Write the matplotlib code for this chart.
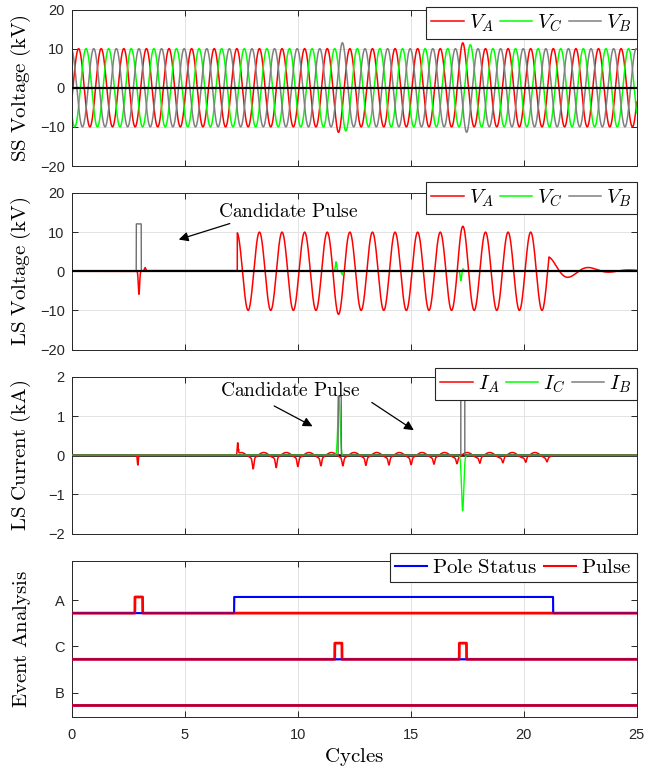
import numpy as np
import matplotlib.pyplot as plt
from matplotlib.lines import Line2D

plt.rcParams['font.family'] = ['Liberation Sans', 'DejaVu Sans']
plt.rcParams['mathtext.fontset'] = 'cm'

# ---- values ----
cycle_ticks = [0, 5, 10, 15, 20, 25]
volt_ticks = [-20, -10, 0, 10, 20]
curr_ticks = [-2, -1, 0, 1, 2]
event_labels = ['B', 'C', 'A']
event_base = [0, 1, 2]

# SS voltage: peak 10 kV, cycle position of each phase peak
ss_amp = 10.0
ss_peak_pos = {'A': 0.31, 'C': 0.64, 'B': 0.98}
ss_swell_t = {'A': [11.80, 17.29], 'C': [12.10, 17.63], 'B': [11.98, 17.46]}
ss_swell_dv = {'A': [1.4, 1.5], 'C': [1.1, 1.0], 'B': [1.5, 1.4]}

# LS voltage, phase A
ls_close, ls_open = 7.33, 21.12
ls_va_peaks = [9.9, 10, 10, 10, 10, 10, 10, 10, 10, 10, 11.5, 10, 10, 10]     # cycles 7..20 at x.31
ls_va_troughs = [-10, -10, -10, -10, -11, -10, -10, -10, -10, -10, -10, -10, -10, -10]  # at x.81
ls_va_spike_t = [2.98, 3.25]
ls_va_spike_v = [-5.9, 0.8]
ls_tail = dict(amp=3.5, period=1.8, decay=1.2)
ls_vc_burst_t = [11.70, 11.98, 17.22, 17.32]
ls_vc_burst_v = [2.4, -0.9, -2.4, 0.6]
ls_vb_pulse = [(2.86, 3.08, 12.1)]

# LS current
ia_spike_t = [2.93, 7.35]
ia_spike_v = [-0.25, 0.32]
ia_ripple = 0.07
ia_dip_t = [8.03, 9.05, 10.01, 11.03, 12.0, 13.02, 14.04, 15.02, 16.03, 17.05, 18.06, 19.08, 20.09, 21.03]
ia_dip_v = [-0.28, -0.25, -0.22, -0.2, -0.2, -0.19, -0.18, -0.17, -0.16, -0.15, -0.14, -0.13, -0.12, -0.1]
ic_spike_t = [11.83, 17.30]
ic_spike_v = [1.5, -1.42]
ib_pulse = [(11.79, 11.93, 1.5), (17.22, 17.39, 12.0)]

# Event analysis
pole_A = [(7.19, 21.30)]
pulse_A = [(2.80, 3.14)]
pulse_C = [(11.64, 11.96), (17.15, 17.47)]
pulse_B = []
step_h = 0.35

RED, GREEN, GREY, BLUE = '#ff0000', '#00ff00', '#808080', '#0000ff'

t = np.linspace(0, 25, 12001)


def bumps(times, vals, w):
    out = np.zeros_like(t)
    for tk, vk in zip(times, vals):
        out += vk * np.exp(-((t - tk) / w) ** 2)
    return out


def box(windows, h):
    out = np.zeros_like(t)
    for a, b in windows:
        out[(t >= a) & (t <= b)] = h
    return out


def pulse_line(pulses):
    out = np.zeros_like(t)
    for a, b, h in pulses:
        out[(t >= a) & (t <= b)] = h
    return out


def style(ax, ylim, yticks):
    ax.set_xlim(0, 25)
    ax.set_ylim(*ylim)
    ax.set_xticks(cycle_ticks)
    ax.set_yticks(yticks)
    ax.tick_params(direction='in', length=4, width=0.7, top=True, right=True,
                   labelsize=10.5, colors='#262626')
    ax.tick_params(axis='y', pad=5)
    ax.tick_params(axis='x', pad=8)
    for s in ax.spines.values():
        s.set_color('#262626')
        s.set_linewidth(0.7)
    ax.grid(True, color='#e3e3e3', lw=0.7)
    ax.set_axisbelow(True)


def legend(ax, handles, labels, top):
    lg = ax.legend(handles, labels, loc='upper right', bbox_to_anchor=(1.0, top),
                   ncol=len(labels), fontsize=15, frameon=True, fancybox=False,
                   edgecolor='#262626', framealpha=1, borderaxespad=0,
                   handlelength=1.55, handletextpad=0.25, columnspacing=0.3,
                   borderpad=0.25)
    lg.get_frame().set_linewidth(0.8)
    lg.set_zorder(10)


fig = plt.figure(figsize=(6.62, 7.73), dpi=100)
L, W, H = 71.6 / 662, 565.1 / 662, 156.5 / 773
tops = [9.5, 193.0, 377.0, 560.5]
axs = [fig.add_axes([L, 1 - (tp + 156.5) / 773, W, H]) for tp in tops]

# ---- SS voltage ----
ax = axs[0]
for ph, col in [('A', RED), ('C', GREEN), ('B', GREY)]:
    amp = ss_amp + bumps(ss_swell_t[ph], ss_swell_dv[ph], 0.15)
    ax.plot(t, amp * np.cos(2 * np.pi * (t - ss_peak_pos[ph])), color=col, lw=1.1)
ax.axhline(0, color='k', lw=1.6, zorder=5)
style(ax, (-20, 20), volt_ticks)
ax.set_xticklabels([])
ax.set_ylabel(r'$\mathrm{SS\ Voltage\ (kV)}$', fontsize=15)
legend(ax, [Line2D([], [], color=c, lw=1.1) for c in (RED, GREEN, GREY)],
       [r'$V_A$', r'$V_C$', r'$V_B$'], 1.013)

# ---- LS voltage ----
ax = axs[1]
i_pk = np.clip(np.round(t - 0.31).astype(int) - 7, 0, 13)
i_tr = np.clip(np.round(t - 0.81).astype(int) - 7, 0, 13)
wave = np.cos(2 * np.pi * (t - 0.31))
amp = np.where(wave >= 0, np.array(ls_va_peaks)[i_pk], -np.array(ls_va_troughs)[i_tr])
va = bumps(ls_va_spike_t, ls_va_spike_v, 0.04)
va += np.where((t > 3.2) & (t < ls_close), 0.15, 0)
on = (t >= ls_close) & (t < ls_open)
va[on] = (amp * wave)[on]
dt = t - ls_open
tail = ls_tail['amp'] * np.exp(-dt / ls_tail['decay']) * np.cos(2 * np.pi * dt / ls_tail['period'])
va[t >= ls_open] = tail[t >= ls_open] + 0.15
vc = bumps(ls_vc_burst_t, ls_vc_burst_v, 0.04)
vb = pulse_line(ls_vb_pulse)
ax.plot(t, va, color=RED, lw=1.1)
ax.plot(t, vc, color=GREEN, lw=1.1)
ax.plot(t, vb, color='#6e6e6e', lw=1.0)
ax.axhline(0, color='k', lw=1.6, zorder=5)
style(ax, (-20, 20), volt_ticks)
ax.set_xticklabels([])
ax.set_ylabel(r'$\mathrm{LS\ Voltage\ (kV)}$', fontsize=15)
ax.annotate(r'$\mathrm{Candidate\ Pulse}$', xy=(4.74, 8.1), xytext=(9.56, 15.2),
            fontsize=14, ha='center', va='center',
            arrowprops=dict(arrowstyle='-|>', color='k', lw=0.9, mutation_scale=14,
                            shrinkA=0, shrinkB=0, relpos=(0.15, 0.0)))
legend(ax, [Line2D([], [], color=c, lw=1.1) for c in (RED, GREEN, GREY)],
       [r'$V_A$', r'$V_C$', r'$V_B$'], 1.068)

# ---- LS current ----
ax = axs[2]
ia = bumps(ia_spike_t, ia_spike_v, 0.03)
ripple = ia_ripple * np.cos(2 * np.pi * (t - 0.5)) + bumps(ia_dip_t, ia_dip_v, 0.05)
ia = ia + np.where((t >= ls_close + 0.05) & (t < 21.25), ripple, 0)
ic = bumps(ic_spike_t, ic_spike_v, 0.07)
ib = pulse_line(ib_pulse)
ax.axhline(0, color='k', lw=1.8, zorder=1.5)
ax.plot(t, ia, color=RED, lw=1.1, zorder=2)
ax.plot(t, ic, color=GREEN, lw=1.0, zorder=3)
ax.plot(t, ib, color='#6e6e6e', lw=1.0, zorder=4)
style(ax, (-2, 2), curr_ticks)
ax.set_xticklabels([])
ax.set_ylabel(r'$\mathrm{LS\ Current\ (kA)}$', fontsize=15)
for tail_xy, head_xy in [((8.96, 1.26), (10.66, 0.74)), ((13.28, 1.35), (15.14, 0.64))]:
    ax.annotate('', xy=head_xy, xytext=tail_xy,
                arrowprops=dict(arrowstyle='-|>', color='k', lw=0.9, mutation_scale=14,
                                shrinkA=0, shrinkB=0))
ax.text(9.65, 1.64, r'$\mathrm{Candidate\ Pulse}$', fontsize=14, ha='center', va='center')
legend(ax, [Line2D([], [], color=c, lw=1.1) for c in (RED, GREEN, GREY)],
       [r'$I_A$', r'$I_C$', r'$I_B$'], 1.056)

# ---- Event analysis ----
ax = axs[3]
poles = {'A': pole_A, 'C': [], 'B': []}
pulses = {'A': pulse_A, 'C': pulse_C, 'B': pulse_B}
for lab, base in zip(event_labels, event_base):
    pole = base + box(poles[lab], step_h)
    ax.plot(t, pole, color=BLUE, lw=1.5, zorder=3)
    ax.plot(t, base + box(pulses[lab], step_h), color=RED, lw=2.0, zorder=4)
    # blue showing through the red where the two traces coincide
    ax.plot(t, pole, color=BLUE, lw=1.2, alpha=0.55, zorder=5)
style(ax, (-0.25, 3.14), [b + 0.28 for b in event_base])
ax.grid(False)
ax.grid(True, axis='x', color='#e3e3e3', lw=0.7)
ax.set_yticklabels(event_labels)
ax.set_xlabel(r'$\mathrm{Cycles}$', fontsize=15, labelpad=3)
ax.set_ylabel(r'$\mathrm{Event\ Analysis}$', fontsize=15)
legend(ax, [Line2D([], [], color=BLUE, lw=1.5), Line2D([], [], color=RED, lw=1.5)],
       [r'$\mathrm{Pole\ Status}$', r'$\mathrm{Pulse}$'], 1.05)

for ax in axs:
    ax.yaxis.set_label_coords(-0.068, 0.5)

fig.savefig('out.png', dpi=100)
